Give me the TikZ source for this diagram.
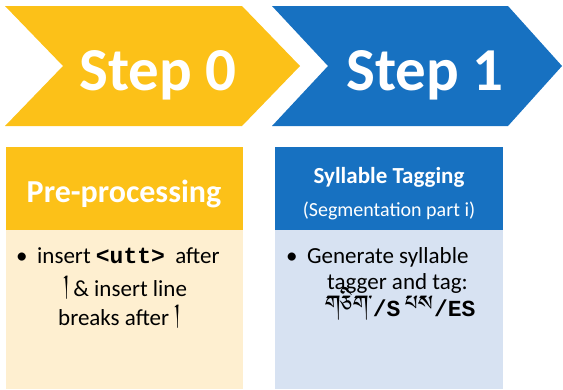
\documentclass[tikz,border=0pt]{standalone}
\usepackage{fontspec}
\setmainfont{Carlito}
\newfontfamily\uttfont{Liberation Mono}
\IfFontExistsTF{Jomolhari}{\newfontfamily\tibfont[Script=Tibetan,Scale=1.2]{Jomolhari}}{%
  \IfFontExistsTF{Tibetan Machine Uni}{\newfontfamily\tibfont[Script=Tibetan,Scale=1.2]{Tibetan Machine Uni}}{%
    \newfontfamily\tibfont{DejaVu Sans}}}
\definecolor{stepyellow}{HTML}{FCC118}
\definecolor{stepblue}{HTML}{1771C1}
\definecolor{bodyyellow}{HTML}{FEEFD0}
\definecolor{bodyblue}{HTML}{D7E2F2}

\begin{document}
\begin{tikzpicture}[x=1pt,y=-1pt]
	
	% 定义样式
	\tikzset{
		steplabel/.style={anchor=base,text=white,font=\bfseries\fontsize{61}{61}\selectfont,inner sep=0pt},
		headlabel/.style={anchor=base,text=white,font=\bfseries\fontsize{32}{32}\selectfont,inner sep=0pt},
		titlelabel/.style={anchor=base,text=white,font=\bfseries\fontsize{23}{23}\selectfont,inner sep=0pt},
		sublabel/.style={anchor=base,text=white,font=\fontsize{20}{20}\selectfont,inner sep=0pt},
		bodyline/.style={anchor=base west,font=\fontsize{23}{23}\selectfont,inner sep=0pt}
	}
	\newcommand{\uttbold}[1]{{\uttfont\bfseries #1}}
	
	\useasboundingbox (0,0) rectangle (563,389); % 画布大小
	
	% 绘制两个箭头
	\fill[stepyellow] (5,6) -- (242,6) -- (300,66) -- (242,126) -- (5,126) -- (63,66) -- cycle; % 第 0 步
	\fill[stepblue] (272,6) -- (508,6) -- (562,66) -- (508,126) -- (272,126) -- (328,66) -- cycle; % 第 1 步
	\node[steplabel] (step0) at (158,90) {Step 0};
	\node[steplabel] (step1) at (425,90) {Step 1};
	
	% 绘制两个方框
	\fill[stepyellow] (6,147) rectangle (243,230); % 黄色标题
	\fill[bodyyellow] (6,230) rectangle (243,389); % 黄色内容
	\fill[stepblue] (275,147) rectangle (503,230); % 蓝色标题
	\fill[bodyblue] (275,230) rectangle (503,389); % 蓝色内容
	
	% 标题文字
	\node[headlabel] (pre) at (124,202) {Pre-processing};
	\node[titlelabel] (syl) at (389,183) {Syllable Tagging};
	\node[sublabel] (seg) at (389,216) {(Segmentation part i)};
	
	% 黄色方框内容
	\node[bodyline] (bul0) at (16,263) {•};
	\node[bodyline] (pre1) at (37,263) {insert \uttbold{<utt>}\ \ after};
	\node[bodyline] (pre2) at (63,296) {{\tibfont །}\,\& insert line};
	\node[bodyline] (pre3) at (58,325) {breaks after {\tibfont །}};
	
	% 蓝色方框内容
	\node[bodyline] (bul1) at (286,263) {•};
	\node[bodyline] (syl1) at (307,263) {Generate syllable};
	\node[bodyline] (syl2) at (327,289) {tagger and tag:};
	\node[bodyline] (syl3) at (325,316) {{\tibfont གཅིག་}\uttbold{/S} {\tibfont པས}\uttbold{/ES}};
	
\end{tikzpicture}
\end{document}
